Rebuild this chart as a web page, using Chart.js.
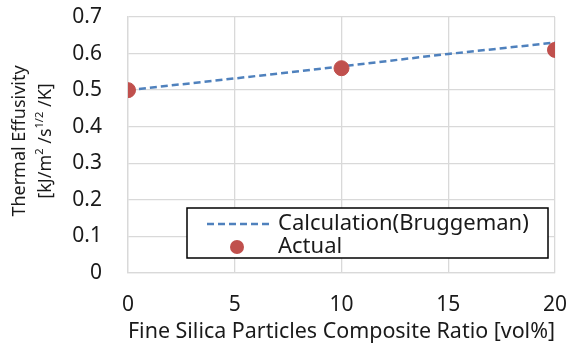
<!DOCTYPE html>
<html>
<head>
<meta charset="utf-8">
<script src="https://cdn.jsdelivr.net/npm/chart.js@4"></script>
<style>
    html, body { margin: 0; padding: 0; background: #ffffff; }
    #wrap { width: 569px; height: 346px; }
</style>
</head>
<body>
<div id="wrap"><canvas id="effusivityChart" width="569" height="346"></canvas></div>
<script>
// Thermal effusivity vs. fine silica composite ratio

const calcRatio = [0, 5, 10, 15, 20];
const calcEffusivity = [0.5, 0.532, 0.565, 0.599, 0.63];
const actualRatio = [0, 10, 20];
const actualEffusivity = [0.5, 0.56, 0.61];

const xTitle = 'Fine Silica Particles Composite Ratio [vol%]';
const yTitleLine1 = 'Thermal Effusivity';
const legendLabels = ['Calculation(Bruggeman)', 'Actual'];

const FONT = '"Noto Sans", "Open Sans", sans-serif';
const TEXT = '#1a1a1a';
const GRID = '#d9d9d9';
const BLUE = '#4f81bd';
const RED = '#c0504d';

Chart.defaults.font.family = FONT;
Chart.defaults.color = TEXT;

// y title drawn by hand because of the superscripts
const yTitlePlugin = {
    id: 'yTitle',
    afterDraw(chart) {
        const ctx = chart.ctx;
        const area = chart.chartArea;
        const cy = (area.top + area.bottom) / 2 - 4;
        ctx.save();
        ctx.fillStyle = TEXT;
        ctx.textBaseline = 'middle';

        // line 1
        ctx.save();
        ctx.translate(20, cy);
        ctx.rotate(-Math.PI / 2);
        ctx.font = '18px ' + FONT;
        ctx.textAlign = 'center';
        ctx.fillText(yTitleLine1, 0, 0);
        ctx.restore();

        // line 2: [kJ/m2/s1/2/K]
        const parts = [
            { t: '[kJ/m', sup: false },
            { t: '2', sup: true },
            { t: ' /s', sup: false },
            { t: '1/2', sup: true },
            { t: ' /K]', sup: false }
        ];
        const normal = '18px ' + FONT;
        const small = '11px ' + FONT;
        let total = 0;
        parts.forEach(p => {
            ctx.font = p.sup ? small : normal;
            p.w = ctx.measureText(p.t).width;
            total += p.w;
        });
        ctx.save();
        ctx.translate(46, cy);
        ctx.rotate(-Math.PI / 2);
        ctx.textAlign = 'left';
        let x = -total / 2;
        parts.forEach(p => {
            ctx.font = p.sup ? small : normal;
            ctx.fillText(p.t, x, p.sup ? -6 : 0);
            x += p.w;
        });
        ctx.restore();
        ctx.restore();
    }
};

// legend box inside the plot, lower right
const boxLegendPlugin = {
    id: 'boxLegend',
    afterDraw(chart) {
        const ctx = chart.ctx;
        const x0 = 187, y0 = 208, x1 = 548, y1 = 258;
        ctx.save();
        ctx.fillStyle = '#ffffff';
        ctx.fillRect(x0, y0, x1 - x0, y1 - y0);
        ctx.strokeStyle = '#000000';
        ctx.lineWidth = 1.5;
        ctx.strokeRect(x0, y0, x1 - x0, y1 - y0);

        const rowY = [224, 247];
        // calculation sample
        ctx.strokeStyle = BLUE;
        ctx.lineWidth = 2.5;
        ctx.setLineDash([7, 4]);
        ctx.beginPath();
        ctx.moveTo(207, rowY[0]);
        ctx.lineTo(270, rowY[0]);
        ctx.stroke();
        ctx.setLineDash([]);
        // actual sample
        ctx.fillStyle = RED;
        ctx.beginPath();
        ctx.arc(237, rowY[1], 7, 0, Math.PI * 2);
        ctx.fill();

        ctx.fillStyle = TEXT;
        ctx.font = '22px ' + FONT;
        ctx.textAlign = 'left';
        ctx.textBaseline = 'middle';
        ctx.fillText(legendLabels[0], 278, rowY[0]);
        ctx.fillText(legendLabels[1], 278, rowY[1]);
        ctx.restore();
    }
};

function initEffusivityChart() {
    const ctx = document.getElementById('effusivityChart');

    new Chart(ctx, {
        type: 'scatter',
        data: {
            datasets: [{
                label: legendLabels[0],
                data: calcRatio.map((v, i) => ({ x: v, y: calcEffusivity[i] })),
                showLine: true,
                borderColor: BLUE,
                borderWidth: 2.5,
                borderDash: [7, 4],
                pointRadius: 0,
                fill: false,
                order: 2
            }, {
                label: legendLabels[1],
                data: actualRatio.map((v, i) => ({ x: v, y: actualEffusivity[i] })),
                showLine: false,
                backgroundColor: RED,
                borderColor: RED,
                pointRadius: 7.5,
                order: 1
            }]
        },
        options: {
            responsive: false,
            animation: false,
            layout: { padding: { top: 17, right: 14, left: 0, bottom: 0 } },
            plugins: {
                legend: { display: false },
                tooltip: { enabled: false }
            },
            scales: {
                x: {
                    type: 'linear',
                    min: 0,
                    max: 20,
                    ticks: { stepSize: 5, padding: 19, font: { size: 21 }, color: TEXT },
                    grid: { color: GRID, lineWidth: 1.3, drawTicks: false },
                    border: { color: GRID, width: 1.3 },
                    title: { display: true, text: xTitle, font: { size: 22 }, color: TEXT, padding: { top: 0, bottom: 1 } },
                    afterFit: function(scale) {
                        scale.height = 73;
                        scale.paddingLeft = 0;
                        scale.paddingRight = 0;
                    }
                },
                y: {
                    min: 0,
                    max: 0.7,
                    ticks: {
                        stepSize: 0.1,
                        padding: 26,
                        font: { size: 21 },
                        color: TEXT,
                        callback: function(value) {
                            return value === 0 ? '0' : value.toFixed(1);
                        }
                    },
                    grid: { color: GRID, lineWidth: 1.3, drawTicks: false },
                    border: { color: GRID, width: 1.3 },
                    afterFit: function(scale) {
                        scale.width = 128;
                        scale.paddingTop = 0;
                        scale.paddingBottom = 0;
                    }
                }
            }
        },
        plugins: [yTitlePlugin, boxLegendPlugin]
    });
}

initEffusivityChart();
</script>
</body>
</html>
